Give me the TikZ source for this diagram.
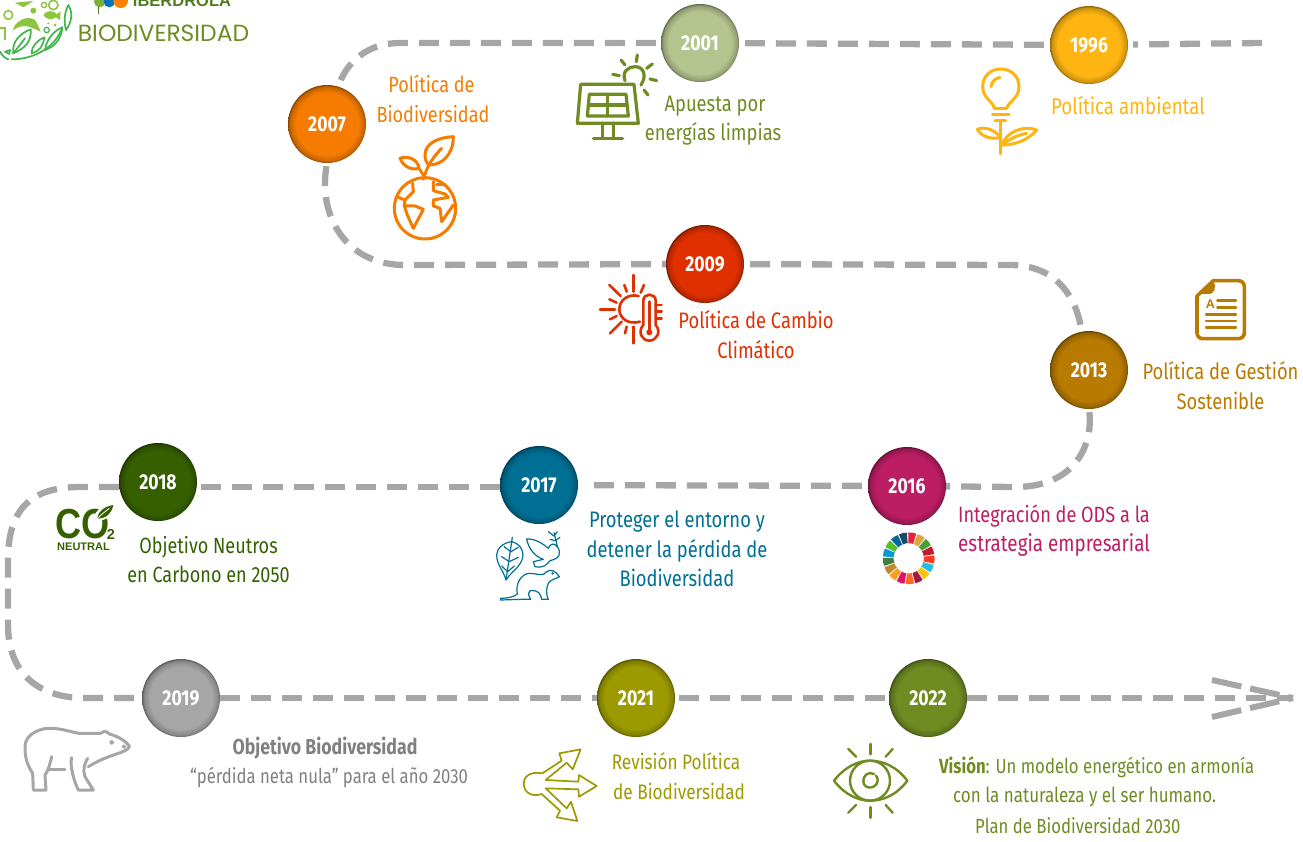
\documentclass[tikz,border=0pt]{standalone}
\usepackage{fontspec}
\setmainfont[FakeStretch=0.82]{Fira Sans}
\newfontfamily\lgfont{Liberation Sans}
\newfontfamily\cofont[FakeStretch=0.86]{Liberation Sans}
\newfontfamily\bdfont{Poppins}
\usetikzlibrary{calc}
\definecolor{cOr}{HTML}{F57C00}
\definecolor{cLi}{HTML}{6F8B22}
\definecolor{cLt}{HTML}{B5C48F}
\definecolor{cYe}{HTML}{FFB511}
\definecolor{cRe}{HTML}{E03000}
\definecolor{cBr}{HTML}{B87A00}
\definecolor{cMa}{HTML}{BC1D63}
\definecolor{cTe}{HTML}{006F94}
\definecolor{cDg}{HTML}{366000}
\definecolor{cGr}{HTML}{A6A6A6}
\definecolor{cTg}{HTML}{808080}
\definecolor{cOl}{HTML}{9C9A00}
\definecolor{logoA}{HTML}{8CC63F}
\definecolor{logoB}{HTML}{3FB54A}
\definecolor{cIb}{HTML}{4E7D1E}
\colorlet{yrc}{cGr}
\pgfdeclareradialshading[yrc]{yrshade}{\pgfpoint{0bp}{0bp}}{color(0bp)=(yrc); color(20bp)=(yrc); color(24bp)=(yrc!80!black); color(25bp)=(yrc!55!black); color(50bp)=(yrc!55!black)}
\tikzset{
  yearnode/.style={circle,minimum size=78pt,inner sep=0pt,/utils/exec={\colorlet{yrc}{#1}},shading=yrshade,text=white,font=\fontsize{21.5}{23}\selectfont\bfseries},
  track/.style={draw=cGr,line width=6.3pt,dash pattern=on 20pt off 11pt},
  gapped/.style={shorten >=6pt,shorten <=6pt},
  lab/.style={inner sep=0pt,align=center,font=\fontsize{#1}{29.5}\selectfont},
  lab/.default=22.4,
  zoomed/.style={shift={(#1)},x=.3333pt,y=-.3333pt},
  icon/.style={line width=#1,line cap=round,line join=round,fill=none}
}
\begin{document}
\begin{tikzpicture}[x=1pt,y=-1pt]
\useasboundingbox (0,0) rectangle (1303,841);
% year nodes
\node[yearnode=cOr] (n2007) at (327,124) {2007};
\node[yearnode=cLt] (n2001) at (700,43) {2001};
\node[yearnode=cYe] (n1996) at (1089,45) {1996};
\node[yearnode=cRe] (n2009) at (705,264) {2009};
\node[yearnode=cBr] (n2013) at (1089,370) {2013};
\node[yearnode=cMa] (n2016) at (907,486) {2016};
\node[yearnode=cTe] (n2017) at (539,485) {2017};
\node[yearnode=cDg] (n2018) at (158,482) {2018};
\node[yearnode=cGr] (n2019) at (181,698) {2019};
\node[yearnode=cOl] (n2021) at (636,698) {2021};
\node[yearnode=cLi] (n2022) at (928,698) {2022};
% track
\coordinate (tstart) at (1262,43);
\coordinate (tend) at (1293,698);
\coordinate (h1) at (1212,680);
\coordinate (h2) at (1212,717);
\draw[track,shorten >=5pt] (tstart) -- (n1996);
\draw[track,gapped] (n1996) -- (n2001);
\draw[track,shorten <=5pt] (n2001) -- (400,43) .. controls (365,43) and (345,65) .. (n2007);
\draw[track,shorten <=3pt] (n2007.south) .. controls (318,215) and (345,265) .. (405,265) -- (n2009);
\draw[track,shorten <=6pt,shorten >=4pt] (n2009) -- (1010,265) .. controls (1055,265) and (1075,295) .. (n2013);
\draw[track,shorten <=3pt] (n2013.south) .. controls (1093,445) and (1075,487) .. (1015,487) -- (n2016);
\draw[track,gapped] (n2016) -- (n2017);
\draw[track] ($(n2017.west)+(0,2)$) -- ($(n2018.east)+(0,5)$);
\draw[track] ($(n2018.west)+(0,5)$) -- (80,487) .. controls (30,487) and (8,510) .. (8,560) -- (8,625) .. controls (8,670) and (35,698) .. (85,698) -- (n2019);
\draw[track] (n2019) -- (n2021);
\draw[track,shorten <=4pt] (n2021) -- (n2022);
\draw[track] (n2022) -- (tend);
\draw[draw=cGr,line width=6pt,dash pattern=on 30pt off 9pt] (h1) -- (tend);
\draw[draw=cGr,line width=6pt,dash pattern=on 30pt off 9pt] (h2) -- (tend);
% labels
\node[lab=22,text=cOr] (t2007) at (433,99) {\hspace*{-3pt}Política de\\Biodiversidad};
\node[lab,text=cLi] (t2001) at (713,120.5) {\hspace*{4pt}Apuesta por\\energías limpias};
\node[lab=22.8,text=cYe] (t1996) at (1128,106) {Política ambiental};
\node[lab,text=cRe] (t2009) at (756,334.5) {Política de Cambio\\Climático};
\node[lab,text=cBr] (t2013) at (1220.5,385.5) {Política de Gestión\\Sostenible};
\node[lab=22.1,text=cMa] (t2016) at (1054,530.5) {Integración de ODS a la\\\fontsize{23}{29.5}\selectfont estrategia empresarial};
\node[lab,text=cTe] (t2017) at (677,549) {Proteger el entorno y\\detener la pérdida de\\Biodiversidad};
\node[lab=22,text=cDg] (t2018) at (208.5,559.5) {Objetivo Neutros\\en Carbono en 2050};
\node[lab=20.4,text=cTg] (t2019) at (329,762.5) {\fontsize{21.6}{29.5}\selectfont\bfseries Objetivo Biodiversidad\hspace*{8pt}\\“pérdida neta nula” para el año 2030};
\node[lab=21,text=cOl] (t2021) at (676,776) {Revisión Política\\\hspace*{6pt}de Biodiversidad};
\node[lab=20.4,text=cLi,anchor=west] (t2022a) at (939,767) {\textbf{Visión}: Un modelo energético en armonía};
\node[lab=20.7,text=cLi,anchor=west] (t2022b) at (953,796.5) {con la naturaleza y el ser humano.};
\node[lab=20.4,text=cLi,anchor=west] (t2022c) at (975,825.5) {Plan de Biodiversidad 2030};
% globe icon
\begin{scope}[zoomed={370,120},draw=cOr,icon=3pt]
\draw (165,265) circle (92);
\draw (250,50) .. controls (205,52) and (165,70) .. (165,105) .. controls (165,120) and (170,130) .. (178,135) .. controls (215,135) and (250,105) .. (250,50) -- cycle;
\draw (160,178) .. controls (170,140) and (190,110) .. (215,85);
\draw (90,115) .. controls (115,105) and (145,120) .. (147,145) .. controls (125,152) and (100,140) .. (90,115) -- cycle;
\draw (147,145) -- (160,165);
\draw (128,190) -- (130,215) -- (105,240) -- (85,232);
\draw (105,240) -- (103,258) -- (135,258) -- (160,268) -- (130,325) -- (112,285) -- (103,258);
\draw (190,185) -- (190,212) -- (225,222) -- (235,232) -- (190,240) -- (190,258) -- (210,265) -- (215,305) -- (250,255);
\draw (200,195) -- (225,195);
\end{scope}
% solar panel icon
\begin{scope}[zoomed={560,40},draw=cLi,icon=3.2pt]
\draw (62,133) -- (222,133) -- (235,250) -- (52,250) -- cycle;
\draw (88,163) -- (198,163) -- (205,228) -- (82,228) -- cycle;
\draw (85,195) -- (201,195);
\draw (143,163) -- (143,228);
\draw (128,250) -- (128,295);
\draw (160,250) -- (160,295);
\draw (100,295) -- (188,295);
\draw (195,122) .. controls (185,95) and (205,80) .. (225,80) .. controls (250,80) and (262,105) .. (243,135);
\draw (158,103) -- (178,107);
\draw (183,60) -- (195,75);
\draw (232,45) -- (229,65);
\draw (277,72) -- (260,85);
\draw (290,122) -- (270,117);
\draw (264,165) -- (252,150);
\end{scope}
% bulb icon
\begin{scope}[zoomed={960,50},draw=cYe,icon=3pt]
\draw (103,175) .. controls (100,155) and (68,145) .. (68,110) .. controls (68,75) and (95,57) .. (122,57) .. controls (150,57) and (177,75) .. (177,110) .. controls (177,145) and (145,155) .. (140,175) -- cycle;
\draw (93,110) .. controls (95,95) and (105,85) .. (120,82);
\draw (97,193) -- (147,193);
\draw (105,213) -- (137,213);
\draw (122,213) -- (122,312);
\draw (122,262) .. controls (100,235) and (70,230) .. (52,238) .. controls (65,260) and (95,270) .. (122,262) -- cycle;
\draw (125,285) .. controls (140,245) and (190,225) .. (230,240) .. controls (205,270) and (165,285) .. (125,285) -- cycle;
\draw (125,285) .. controls (150,265) and (175,255) .. (200,250);
\end{scope}
% sun and thermometer icon
\begin{scope}[zoomed={590,270},draw=cRe,icon=2.6pt]
\draw (30,118) -- (75,118);
\draw (58,45) -- (92,78);
\draw (130,15) -- (130,65);
\draw (103,45) -- (110,65);
\draw (162,45) -- (152,68);
\draw (58,88) -- (80,98);
\draw (60,148) -- (80,138);
\draw (60,190) -- (95,155);
\draw (105,190) -- (110,170);
\draw (130,170) -- (130,220);
\draw (146,78) .. controls (115,70) and (88,90) .. (88,118) .. controls (88,145) and (115,165) .. (150,155);
\draw (160,165) -- (160,92) .. controls (160,68) and (197,68) .. (197,92) -- (197,165) .. controls (215,185) and (200,212) .. (178,212) .. controls (155,212) and (142,185) .. (160,165) -- cycle;
\draw[line width=2.8pt] (178,95) -- (178,185);
\fill[cRe] (178,187) circle (9);
\draw (197,105) -- (215,105);
\draw (197,125) -- (215,125);
\draw (197,145) -- (215,145);
\end{scope}
% document icon
\begin{scope}[zoomed={1170,270},draw=cBr,icon=3.6pt]
\draw (130,32) -- (205,32) .. controls (216,32) and (223,40) .. (223,50) -- (223,188) .. controls (223,198) and (216,206) .. (205,206) -- (98,206) .. controls (88,206) and (81,198) .. (81,188) -- (81,78) -- cycle;
\fill[cBr] (81,78) -- (130,32) .. controls (140,50) and (135,72) .. (115,72) .. controls (100,70) and (90,72) .. (81,78) -- cycle;
\node[inner sep=0pt,text=cBr,font=\lgfont\fontsize{12.5}{12.5}\selectfont\bfseries] (docA) at (121,104) {A};
\draw[line width=2.4pt] (142,92) -- (198,92);
\draw[line width=2.4pt] (142,113) -- (198,113);
\draw[line width=2.4pt] (108,133) -- (198,133);
\draw[line width=2.4pt] (108,153) -- (198,153);
\draw[line width=2.4pt] (108,173) -- (198,173);
\end{scope}
% leaf, dove and ferret icon
\begin{scope}[zoomed={480,520},draw=cTe,icon=1.2pt]
\draw (95,65) .. controls (125,72) and (135,100) .. (125,122) .. controls (115,145) and (90,160) .. (78,180) .. controls (70,150) and (50,135) .. (50,105) .. controls (50,85) and (70,68) .. (95,65) -- cycle;
\draw (97,52) -- (78,180);
\draw (93,95) -- (72,80); \draw (93,95) -- (115,82);
\draw (88,125) -- (65,110); \draw (88,125) -- (115,112);
\draw (83,155) -- (65,138); \draw (83,155) -- (103,138);
\draw (140,57) .. controls (165,55) and (190,72) .. (205,85) .. controls (210,72) and (222,66) .. (232,80) .. controls (245,100) and (240,115) .. (210,122) .. controls (200,135) and (190,145) .. (165,140) -- (160,125) -- (190,118) .. controls (165,110) and (145,85) .. (140,57) -- cycle;
\draw (232,80) .. controls (228,60) and (225,50) .. (222,38);
\draw (205,35) -- (222,48); \draw (232,35) -- (222,48);
\draw (210,58) -- (226,62); \draw (240,52) -- (226,62);
\draw (62,235) .. controls (80,235) and (100,232) .. (112,222) .. controls (105,190) and (125,160) .. (150,160) .. controls (170,160) and (190,172) .. (200,155) .. controls (215,145) and (228,155) .. (238,170) .. controls (225,178) and (212,178) .. (205,190) .. controls (198,205) and (198,225) .. (205,238) -- (185,238) .. controls (182,220) and (175,210) .. (150,212) .. controls (142,222) and (148,232) .. (152,238) -- (125,238) -- (62,240) -- cycle;
\fill[cTe] (218,160) circle (4);
\end{scope}
% SDG wheel
\begin{scope}[shift={(908.7,558.3)}]
\def\sdgstart{-92.6}
\foreach \cc [count=\i from 0] in {E5243B,DDA63A,4C9F38,C5192D,FF3A21,26BDE2,FCC30B,A21942,FD6925,DD1367,FD9D24,BF8B2E,3F7E44,0A97D9,56C02B,00689D,19486A}{
  \definecolor{sdgc}{HTML}{\cc}
  \pgfmathsetmacro{\aa}{\sdgstart+\i*21.176+1.5}
  \pgfmathsetmacro{\bb}{\aa+18.2}
  \pgfmathsetmacro{\mm}{\aa+9.1}
  \fill[sdgc] (\aa:15) -- (\aa:25.7) -- (\mm:26) -- (\bb:25.7) -- (\bb:15) -- (\mm:15.2) -- cycle;
}
\end{scope}
% CO2 neutral icon
\node[inner sep=0pt,text=cDg,font=\cofont\fontsize{42}{42}\selectfont\bfseries] (coT) at (82.5,524.5) {CO};
\node[inner sep=0pt,text=cDg,font=\lgfont\fontsize{14.5}{14.5}\selectfont\bfseries] (coS) at (111,534.5) {2};
\node[inner sep=0pt,text=cDg,font=\lgfont\fontsize{11}{11}\selectfont\bfseries] (coN) at (83.5,547) {NEUTRAL};
\begin{scope}[zoomed={40,490}]
\fill[white] (160,92) .. controls (165,55) and (195,40) .. (228,38) .. controls (222,75) and (205,95) .. (160,92) -- cycle;
\fill[cDg] (172,86) .. controls (175,60) and (195,50) .. (220,45) .. controls (215,70) and (200,85) .. (172,86) -- cycle;
\draw[white,line width=.8pt] (172,86) .. controls (185,72) and (195,65) .. (208,55);
\end{scope}
% bear icon
\begin{scope}[zoomed={10,710},draw=cGr,icon=3pt]
\draw (125,140) .. controls (120,160) and (118,175) .. (105,195) -- (108,240) -- (70,240) -- (68,190) .. controls (48,160) and (45,135) .. (45,110) .. controls (45,80) and (75,60) .. (110,55) .. controls (150,52) and (195,70) .. (210,70) -- (272,70) .. controls (285,60) and (290,65) .. (298,72) .. controls (330,80) and (355,100) .. (358,110) .. controls (350,130) and (300,130) .. (235,170);
\draw (233,145) .. controls (222,165) and (218,180) .. (225,200) -- (250,240) -- (205,240) .. controls (195,220) and (178,170) .. (185,143);
\draw (115,178) -- (165,178);
\fill[cGr] (305,97) circle (7);
\fill[cGr] (342,110) circle (6);
\end{scope}
% arrows icon
\begin{scope}[zoomed={510,740},draw=cOl,icon=1.7pt]
\draw (97,100) -- (155,62) -- (148,40) -- (212,28) -- (188,88) -- (170,68) -- (107,120) -- (205,125) -- (207,105) -- (260,138) -- (207,170) -- (205,148) -- (107,145) -- (170,205) -- (183,185) -- (202,243) -- (140,232) -- (150,212) -- (95,162) .. controls (30,185) and (15,85) .. (97,100) -- cycle;
\end{scope}
% eye icon
\begin{scope}[zoomed={820,730},draw=cLi,icon=2.4pt]
\draw (42,152) .. controls (75,110) and (115,92) .. (150,92) .. controls (190,92) and (230,110) .. (262,152) .. controls (230,195) and (190,212) .. (150,212) .. controls (115,212) and (75,195) .. (42,152) -- cycle;
\draw (150,152) circle (60);
\draw (162,132) .. controls (145,122) and (128,138) .. (130,155) .. controls (132,180) and (170,178) .. (173,152) .. controls (173,145) and (171,140) .. (168,137);
\draw[line width=3pt] (150,42) -- (150,72);
\draw (85,57) -- (108,80);
\draw (218,57) -- (197,80);
\draw (85,248) -- (108,225);
\draw (218,248) -- (197,225);
\draw[line width=3pt] (150,232) -- (150,263);
\end{scope}
% logo
\begin{scope}[zoomed={0,0}]
\fill[logoA!70!cIb] (299,5) circle (17);
\fill[blue!40!cyan!75!black] (328,5) circle (17);
\fill[orange] (362,2) circle (22);
\draw[cIb,line width=1.2pt] (295,20) -- (295,42);
\begin{scope}[draw=logoB,icon=1.7pt]
\draw (35,178) .. controls (110,178) and (170,135) .. (187,82);
\draw (40,160) .. controls (35,125) and (60,100) .. (92,88) .. controls (95,125) and (75,145) .. (40,160) -- cycle;
\draw (40,160) -- (75,115);
\draw (95,160) .. controls (95,135) and (115,120) .. (133,112) .. controls (130,140) and (115,155) .. (95,160) -- cycle;
\draw (135,150) .. controls (140,115) and (165,90) .. (187,82) .. controls (185,115) and (165,140) .. (135,150) -- cycle;
\draw (198,90) .. controls (190,60) and (195,35) .. (205,15) .. controls (220,40) and (215,65) .. (198,90) -- cycle;
\draw (15,155) -- (30,150) -- (28,162) -- cycle;
\draw (0,155) .. controls (5,165) and (15,175) .. (25,178);
\end{scope}
\fill[logoA] (38,92) .. controls (45,60) and (85,45) .. (105,60) .. controls (112,70) and (118,85) .. (122,95) -- (100,85) .. controls (80,75) and (60,75) .. (38,92) -- cycle;
\fill[logoA] (130,45) .. controls (140,30) and (160,30) .. (170,42) -- (182,35) -- (180,60) -- (168,52) .. controls (155,62) and (138,58) .. (130,45) -- cycle;
\draw[logoA,line width=1.6pt] (25,45) circle (13);
\fill[logoA] (100,32) circle (9);
\draw[logoA,line width=1.4pt] (132,15) circle (8);
\fill[logoA] (45,8) -- (100,3) -- (70,22) -- cycle;
\draw[logoA,line width=1.8pt] (0,85) -- (15,85) -- (15,120);
\draw[logoA,line width=1.6pt] (160,15) circle (14);
\draw[logoB,line width=1.2pt] (140,90) circle (8);
\fill[logoA] (165,75) circle (5);
\fill[logoA] (145,70) circle (3);
\end{scope}
\node[inner sep=0pt,anchor=base,text=cIb,font=\lgfont\fontsize{16.5}{17}\selectfont\bfseries] (ibd) at (182,6) {IBERDROLA};
\node[inner sep=0pt,text=cLi,font=\bdfont\fontsize{23.4}{24}\selectfont] (bio) at (163.5,33) {BIODIVERSIDAD};
\end{tikzpicture}
\end{document}
